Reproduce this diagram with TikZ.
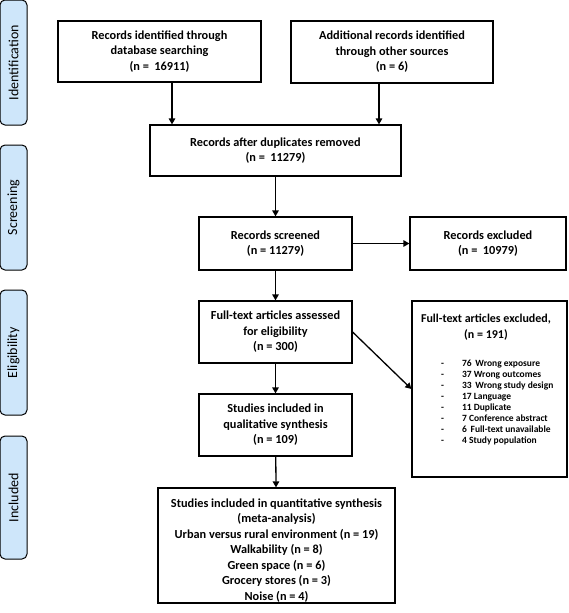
\documentclass[tikz,border=0pt]{standalone}
\usepackage{fontspec}
\setmainfont{Carlito}
\usetikzlibrary{arrows.meta}
\definecolor{sideblue}{RGB}{206,230,250}
\tikzset{
  box/.style={draw, line width=1.2pt, align=center, font=\bfseries\fontsize{12.3}{15.5}\selectfont, inner sep=2pt},
  side/.style={draw, line width=1pt, rounded corners=5pt, fill=sideblue, minimum width=27pt, font=\fontsize{14}{16}\selectfont},
  arr/.style={line width=1.3pt, -{Triangle[length=6pt,width=6.5pt]}},
  small/.style={font=\bfseries\fontsize{9.5}{11}\selectfont, align=left, inner sep=0pt}
}
\begin{document}
\begin{tikzpicture}[x=1pt,y=-1pt]
\useasboundingbox (0,0) rectangle (568,613);
% side labels
\node[side, minimum height=125pt] (sid) at (13.5,62.5) {\rotatebox{90}{Identification}};
\node[side, minimum height=125pt] (ssc) at (13.5,207.5) {\rotatebox{90}{Screening}};
\node[side, minimum height=125pt] (sel) at (13.5,352.5) {\rotatebox{90}{Eligibility}};
\node[side, minimum height=123pt] (sin) at (13.5,497.5) {\rotatebox{90}{Included}};
% boxes
\node[box, minimum width=203pt, minimum height=61pt] (b1) at (159.5,51.5) {Records identified through\\database searching\\(n = \ 16911)};
\node[box, minimum width=202pt, minimum height=62pt] (b2) at (392,52) {Additional records identified\\through other sources\\(n = 6)};
\node[box, minimum width=251pt, minimum height=51pt] (b3) at (275.5,150.5) {Records after duplicates removed\\(n = \ 11279)};
\node[box, minimum width=153pt, minimum height=53pt] (b4) at (275.5,243.5) {Records screened\\(n = 11279)};
\node[box, minimum width=156pt, minimum height=53pt] (e1) at (488,243.5) {Records excluded\\(n = \ 10979)};
\node[box, minimum width=153pt, minimum height=62pt] (b5) at (275.5,332) {Full-text articles assessed\\for eligibility\\(n = 300)};
\node[box, minimum width=155pt, minimum height=176pt] (e2) at (489.5,389) {};
\node[box, draw=none, anchor=north, font=\bfseries\fontsize{12}{16}\selectfont] (e2t) at (486,311) {Full-text articles excluded,\\(n = 191)};
\node[small, anchor=north west] (e2l) at (441,359) {%
\begin{tabular}{@{}l@{\hspace{18pt}}l@{}}
-&76 \,Wrong exposure\\
-&37 Wrong outcomes\\
-&33 \,Wrong study design\\
-&17 Language\\
-&11 Duplicate\\
-&7 Conference abstract\\
-&6 \,Full-text unavailable\\
-&4 Study population
\end{tabular}};
\node[box, minimum width=153pt, minimum height=62pt] (b6) at (275.5,425) {Studies included in\\qualitative synthesis\\(n = 109)};
\node[box, minimum width=237pt, minimum height=115pt] (b7) at (276.5,545.5) {};
\node[box, draw=none] (b7t) at (276.5,550.5) {Studies included in quantitative synthesis\\(meta-analysis)\\Urban versus rural environment (n = 19)\\Walkability (n = 8)\\Green space (n = 6)\\Grocery stores (n = 3)\\Noise (n = 4)};
% arrows
\draw[arr] ([xshift=12.5pt]b1.south) -- ([xshift=12.5pt]b1.south |- b3.north);
\draw[arr] ([xshift=-13pt]b2.south) -- ([xshift=-13pt]b2.south |- b3.north);
\draw[arr] (b3) -- (b4);
\draw[arr] (b4) -- (e1);
\draw[arr] (b4) -- (b5);
\draw[arr] (b5.east) -- (e2.west);
\draw[arr] (b5) -- (b6);
\draw[arr] (b6) -- (b7);
\end{tikzpicture}
\end{document}
